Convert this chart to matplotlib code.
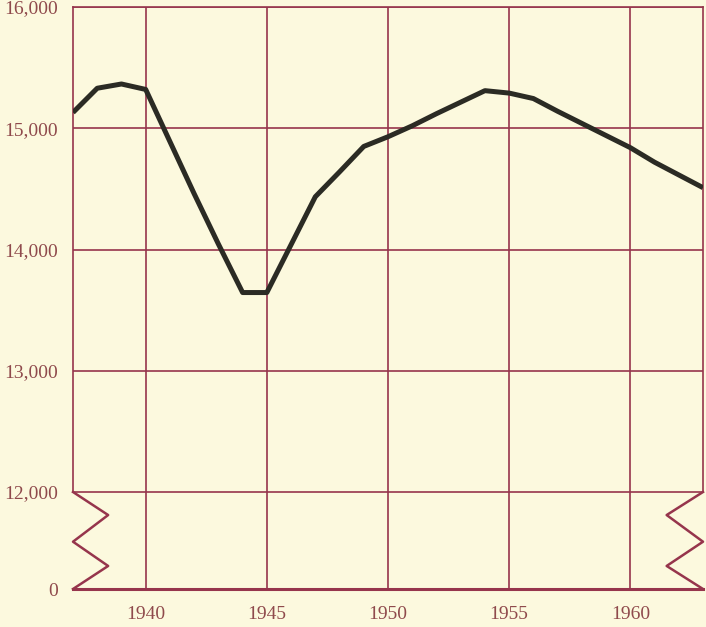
import matplotlib.pyplot as plt

# 数据：年份和数值
years = list(range(1937, 1964))
values = [15130, 15330, 15365, 15320, 14890, 14460, 14045, 13645, 13645,
          14040, 14435, 14640, 14850, 14930, 15020, 15120, 15215, 15310,
          15290, 15245, 15140, 15040, 14940, 14840, 14720, 14615, 14510]

x_ticks = [1940, 1945, 1950, 1955, 1960]
y_ticks = [11200, 12000, 13000, 14000, 15000, 16000]
y_tick_labels = ['0', '12,000', '13,000', '14,000', '15,000', '16,000']

paper = '#fcf9de'
grid_c = '#96354c'
text_c = '#8f4a4c'

plt.rcParams['font.family'] = ['Liberation Serif', 'DejaVu Serif']

fig = plt.figure(figsize=(7.06, 6.27), dpi=100, facecolor=paper)
ax = fig.add_axes([73/706, 1-589/627, 630/706, 582/627])
ax.set_facecolor(paper)

ax.set_xlim(1937, 1963)
ax.set_ylim(11200, 16000)

# 网格线
for x in x_ticks:
    ax.axvline(x, color=grid_c, lw=1.2, zorder=1)
for y in y_ticks[1:]:
    ax.axhline(y, color=grid_c, lw=1.2, zorder=1)

# 曲线
ax.plot(years, values, color='#2b2b24', lw=3.6, solid_joinstyle='round',
        solid_capstyle='butt', zorder=3)

# 坐标轴边框
for s in ['top', 'left', 'right']:
    ax.spines[s].set_color(grid_c)
    ax.spines[s].set_linewidth(1.2)
ax.spines['left'].set_bounds(12000, 16000)
ax.spines['right'].set_bounds(12000, 16000)
ax.spines['bottom'].set_color(grid_c)
ax.spines['bottom'].set_linewidth(2.2)

# 断轴的锯齿
zig_y = [12000, 11810, 11590, 11390, 11200]
ax.plot([1937, 1938.45, 1937, 1938.45, 1937], zig_y, color=grid_c,
        lw=1.8, clip_on=False, zorder=2)
ax.plot([1963, 1961.5, 1963, 1961.5, 1963], zig_y, color=grid_c,
        lw=1.8, clip_on=False, zorder=2)

ax.set_xticks(x_ticks)
ax.set_xticklabels([str(x) for x in x_ticks])
ax.set_yticks(y_ticks)
ax.set_yticklabels(y_tick_labels)
ax.tick_params(axis='both', length=0, labelsize=14, labelcolor=text_c)
ax.tick_params(axis='x', pad=12)
ax.tick_params(axis='y', pad=11)

plt.savefig('out.png', dpi=100, facecolor=paper)
